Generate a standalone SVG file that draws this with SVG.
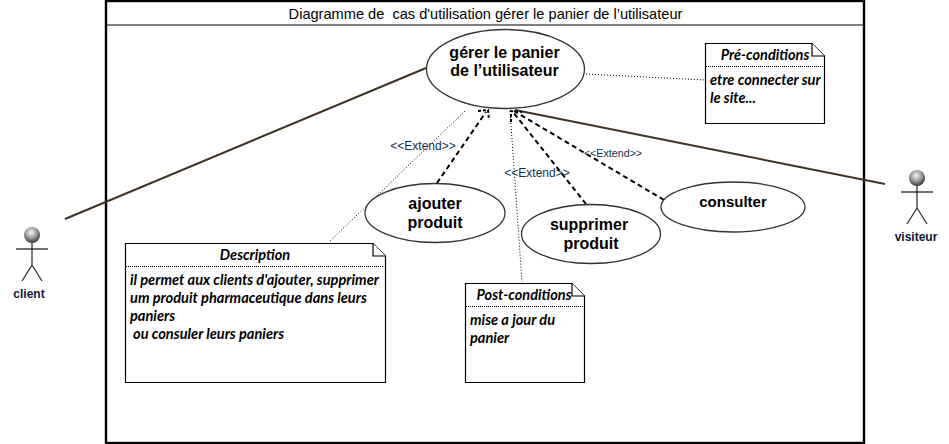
<svg xmlns="http://www.w3.org/2000/svg" width="949" height="444" viewBox="0 0 949 444">
<style>
.uc{fill:#fff;stroke:#333;stroke-width:1.3}
.t{font-family:"Liberation Sans",Arial,sans-serif;font-weight:bold;font-size:16px;text-anchor:middle;fill:#000}
.note{fill:#fff;stroke:#000;stroke-width:1.2}
.sep{stroke:#000;stroke-width:1;stroke-dasharray:1 1;fill:none}
.n{font-family:Lato,"Open Sans",sans-serif;font-weight:bold;font-style:italic;font-size:14.6px;fill:#000}
.nh{text-anchor:middle;font-size:14.5px}
.assoc{stroke:#3f3424;stroke-width:2;fill:none}
.dep{stroke:#000;stroke-width:2;stroke-dasharray:5 3.500;fill:none}
.dot{stroke:#000;stroke-width:1;stroke-dasharray:1 2;fill:none}
.ah{stroke:#000;stroke-width:2;stroke-dasharray:3 2;fill:none}
.st{font-family:"Liberation Sans",Arial,sans-serif;font-size:12px;fill:#10304f;text-anchor:middle}
.a{font-family:"Liberation Sans",Arial,sans-serif;font-weight:bold;font-size:12px;text-anchor:middle;fill:#0a1a30}
.limb{stroke:#333;stroke-width:1.3;fill:none}
.arm{stroke:#111;stroke-width:1.2;fill:none}
</style>
<defs>
<radialGradient id="ball" cx="45%" cy="35%" r="65%">
<stop offset="0" stop-color="#f4f4f4"/><stop offset="0.55" stop-color="#999"/><stop offset="1" stop-color="#333"/>
</radialGradient>
</defs>
<rect width="949" height="444" fill="#fff"/>
<g id="frame">
<rect x="106" y="1" width="758" height="442" fill="#fff" stroke="#000" stroke-width="2.4"/>
<line x1="106" y1="25" x2="864" y2="25" stroke="#000" stroke-width="1.2"/>
<text x="485.500" y="19" font-family="'Liberation Sans',Arial,sans-serif" font-size="14.6" text-anchor="middle" fill="#000" xml:space="preserve">Diagramme de  cas d'utilisation gérer le panier de l’utilisateur</text>
</g>
<g id="connectors">
<path class="assoc" d="M65 219L426 68"/>
<path class="assoc" d="M515 110L885 184"/>
<path class="dot" d="M586 74L705 80"/>
<path class="dot" d="M465 111L329 242"/>
<path class="dot" d="M510 111L522 282"/>
<path class="dep" d="M437 183L486 112"/>
<path class="ah" d="M478 111L488 110L489 120"/>
<path class="dep" d="M586 204L513 112"/>
<path class="dep" d="M664 200L514 111"/>
<path class="ah" d="M511 122L511 111L522 112"/>
<text class="st" x="423" y="150">&lt;&lt;Extend&gt;&gt;</text>
<text class="st" x="537" y="177">&lt;&lt;Extend&gt;&gt;</text>
<text class="st" x="613" y="157" style="font-size:10.700px">&lt;&lt;Extend&gt;&gt;</text>
</g>
<g id="uc-gerer">
<ellipse class="uc" cx="505.500" cy="69" rx="79" ry="39.500"/>
<text class="t" x="504.500" y="58">gérer le panier</text>
<text class="t" x="504.500" y="76">de l’utilisateur</text>
</g>
<g id="uc-ajouter">
<ellipse class="uc" cx="435" cy="213" rx="70" ry="29.500"/>
<text class="t" x="435" y="209">ajouter</text>
<text class="t" x="435" y="228">produit</text>
</g>
<g id="uc-supprimer">
<ellipse class="uc" cx="591" cy="234" rx="69.500" ry="29.500"/>
<text class="t" x="589" y="230">supprimer</text>
<text class="t" x="591" y="249">produit</text>
</g>
<g id="uc-consulter">
<ellipse class="uc" cx="733" cy="207" rx="72" ry="25"/>
<text class="t" x="733" y="207" style="font-size:15px">consulter</text>
</g>
<g id="note-pre">
<path class="note" d="M705.500 43.500H812L824.500 56V123.500H705.500Z"/>
<path class="note" d="M812 43.500V56H824.500"/>
<path class="sep" d="M706 66.500H824"/>
<text class="n nh" x="765" y="60">Pré-conditions</text>
<text class="n" x="710" y="85">etre connecter sur</text>
<text class="n" x="710" y="103">le site...</text>
</g>
<g id="note-description">
<path class="note" d="M125.500 243.500H373L385.500 256V382.500H125.500Z"/>
<path class="note" d="M373 243.500V256H385.500"/>
<path class="sep" d="M126 266.500H384"/>
<text class="n nh" x="255" y="260">Description</text>
<text class="n" x="130" y="285">il permet aux clients d'ajouter, supprimer</text>
<text class="n" x="130" y="303">um produit pharmaceutique dans leurs</text>
<text class="n" x="130" y="321">paniers</text>
<text class="n" x="133" y="339">ou consuler leurs paniers</text>
</g>
<g id="note-post">
<path class="note" d="M465.500 283.500H572L584.500 296V382.500H465.500Z"/>
<path class="note" d="M572 283.500V296H584.500"/>
<path class="sep" d="M466 306.500H583"/>
<text class="n nh" x="524" y="300">Post-conditions</text>
<text class="n" x="470" y="325">mise a jour du</text>
<text class="n" x="470" y="343">panier</text>
</g>
<g id="actor-client">
<circle cx="32" cy="235" r="8" fill="url(#ball)"/>
<path class="limb" d="M32 243V265L22 281M32 265L42 281"/>
<path class="arm" d="M16 249H48"/>
<text class="a" x="29" y="298">client</text>
</g>
<g id="actor-visiteur">
<circle cx="917" cy="178" r="8" fill="url(#ball)"/>
<path class="limb" d="M917 186V208L907 224M917 208L927 224"/>
<path class="arm" d="M901 192H933"/>
<text class="a" x="916" y="241">visiteur</text>
</g>
</svg>
